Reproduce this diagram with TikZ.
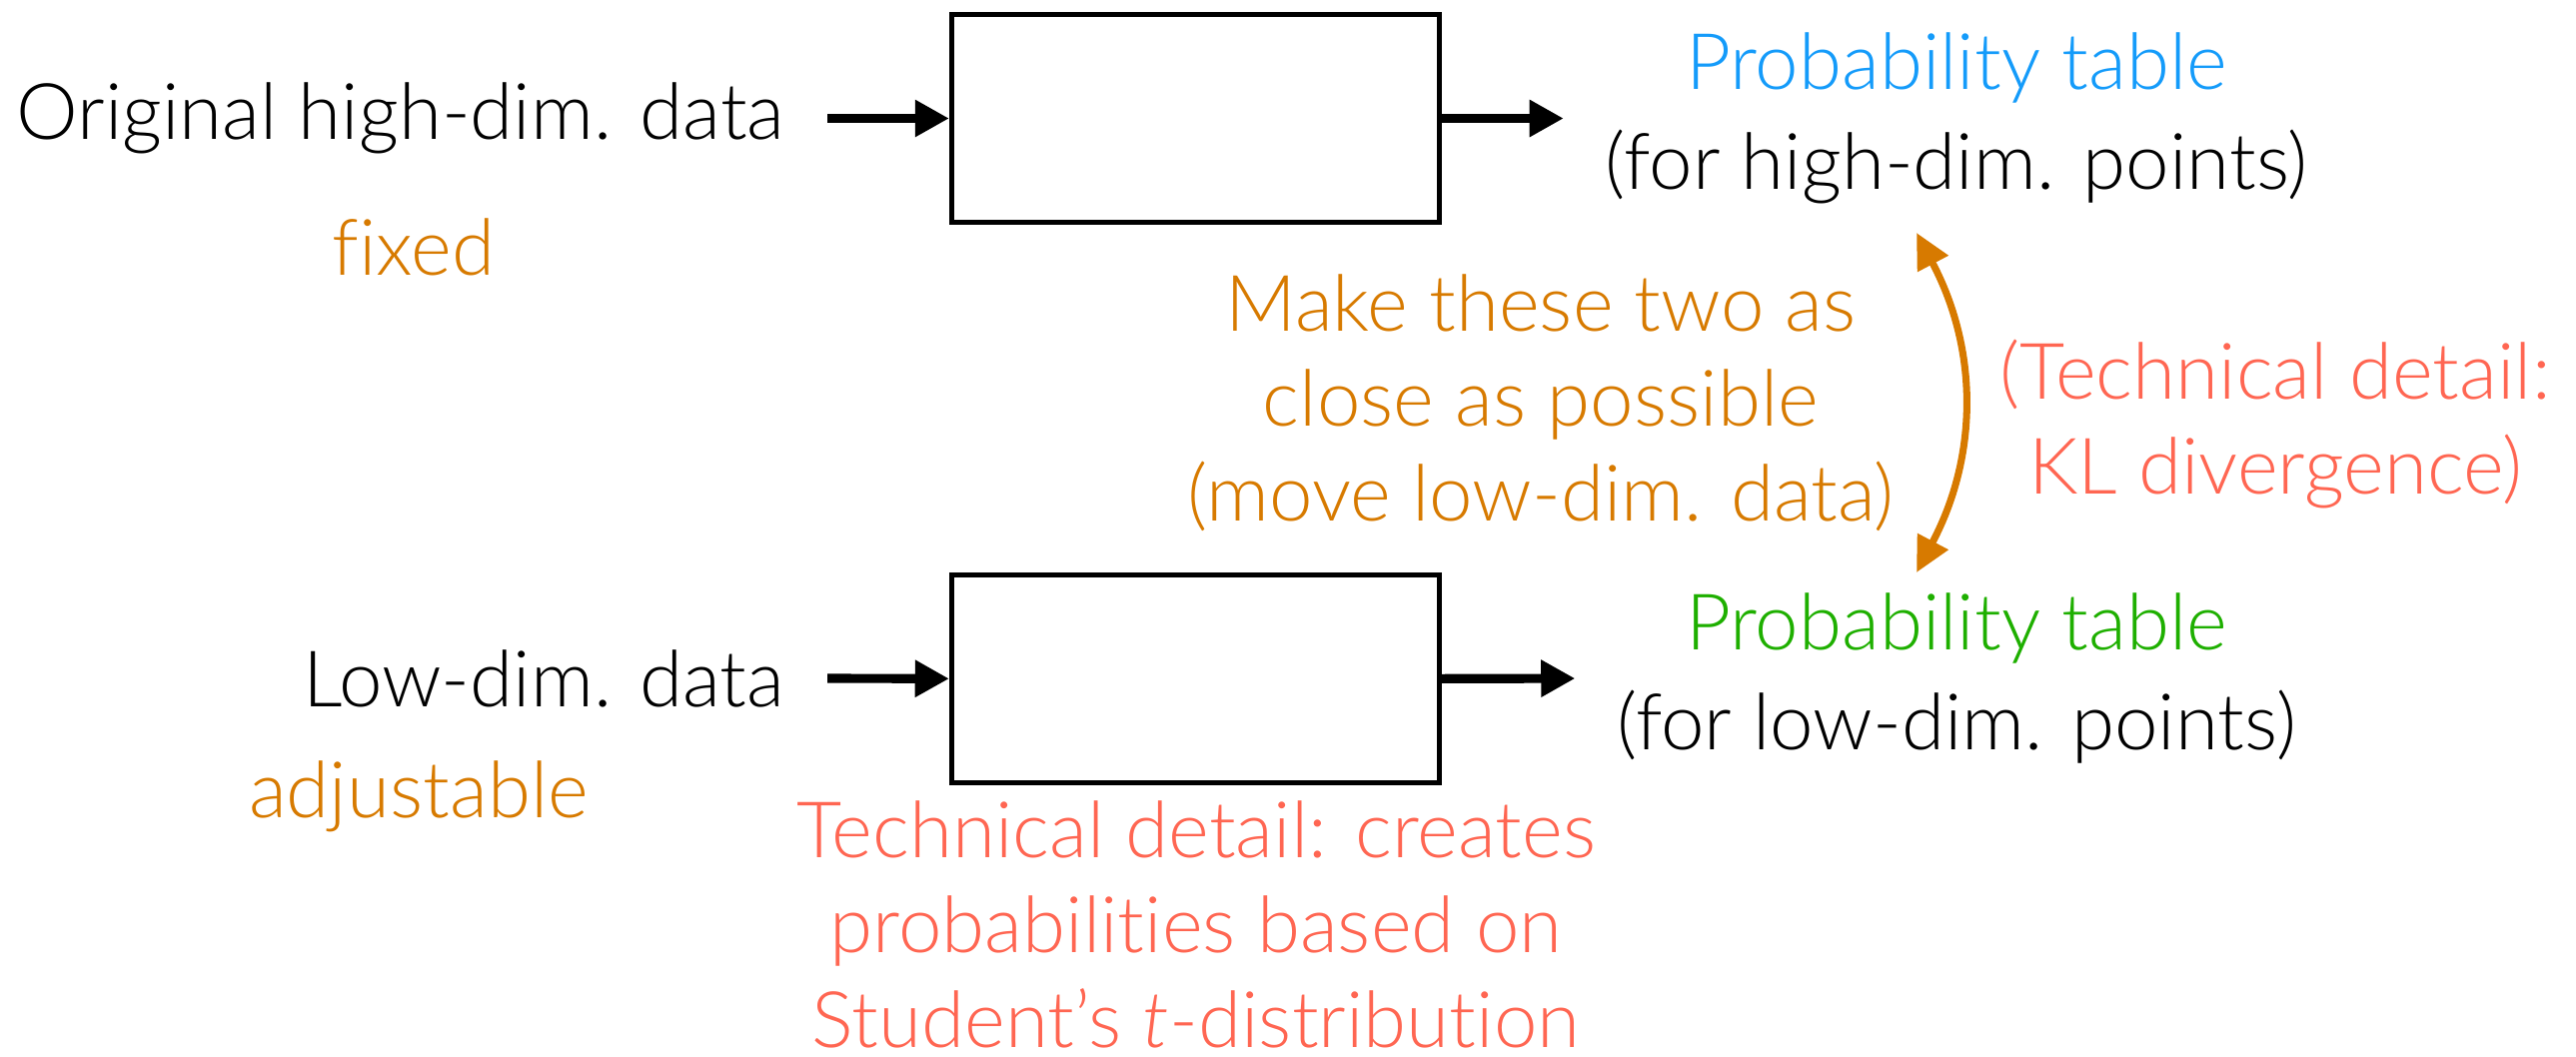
\documentclass[tikz,border=0pt]{standalone}
\usepackage{fontspec}
\setmainfont{Lato Light}[Ligatures={NoCommon}]
\usepackage{tikz}
\usetikzlibrary{
    arrows.meta,
    positioning,
    calc
}
\definecolor{tableblue}{RGB}{20,155,250}
\definecolor{tablegreen}{RGB}{30,175,0}
\definecolor{noteorange}{RGB}{215,122,0}
\definecolor{notered}{RGB}{255,102,82}

\begin{document}
\begin{tikzpicture}[
            x=0.01cm, y=-0.01cm,
            every node/.style={font={\fontsize{22.2}{27}\selectfont}},
            embed_box/.style={rectangle, draw, line width=1.42pt, minimum width=4.88cm, minimum height=2.08cm},
            data_label/.style={anchor=east, inner sep=0pt},
            table_label/.style={align=center, inner sep=0pt, font={\fontsize{22.2}{28.5}\selectfont}},
            orange_note/.style={align=center, inner sep=0pt, text=noteorange},
            red_note/.style={align=center, inner sep=0pt, text=notered},
            main_flow_arrow/.style={-{Triangle[length=9.7pt, width=10pt]}, line width=2.6pt, black},
            match_arrow/.style={{Triangle[length=10pt, width=9.5pt]}-{Triangle[length=10pt, width=9.5pt]}, line width=2pt, noteorange}
        ]
        \useasboundingbox (0,0) rectangle (2578,1057);

        \node[embed_box] (embed_high) at (1196.5,118.5) {};
        \node[embed_box, below=3.475cm of embed_high] (embed_low) {};

        \node[data_label] (orig_data) at (786,118.5) {Original high-dim. data};
        \node[data_label] (low_data) at (786,679) {Low-dim. data};
        \node[orange_note] (fixed_note) at (414,247) {fixed};
        \node[orange_note] (adjust_note) at (419,797) {adjustable};

        \node[table_label] (prob_high) at (1958,118.5) {{\color{tableblue}Probability table}\\(for high-dim. points)};
        \node[table_label] (prob_low) at (1958,679) {{\color{tablegreen}Probability table}\\(for low-dim. points)};

        \node[orange_note] (close_note) at (1542,403) {Make these two as\\close as possible\\(move low-dim. data)};
        \node[red_note] (kl_note) at (2277,424) {(Technical detail:\\KL divergence)};
        \node[red_note, anchor=south] (t_note) at (1197,1050) {Technical detail: creates\\probabilities based on\\Student's \textit{t}-distribution};

        \coordinate (kl_top) at (1918,233);
        \coordinate (kl_bottom) at (1918,573);

        \draw[main_flow_arrow] ([xshift=12pt]orig_data.east) -- (embed_high.west);
        \draw[main_flow_arrow] ([xshift=12pt]low_data.east) -- (embed_low.west);
        \draw[main_flow_arrow, shorten >=11.7pt] (embed_high.east) -- (prob_high.west);
        \draw[main_flow_arrow, shorten >=11.7pt] (embed_low.east) -- (prob_low.west);
        \draw[match_arrow] (kl_top) .. controls (1980,350) and (1980,456) .. (kl_bottom);

        \end{tikzpicture}
\end{document}
